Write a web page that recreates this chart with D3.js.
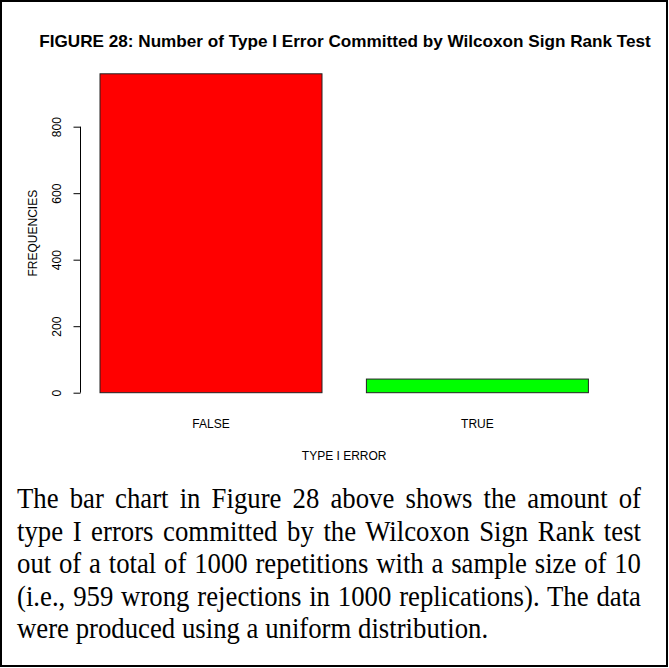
<!DOCTYPE html>
<html>
<head>
<meta charset="utf-8">
<script src="https://cdn.jsdelivr.net/npm/d3@7"></script>
<style>
  html, body { margin: 0; padding: 0; background: #fff; }
  svg { display: block; }
</style>
</head>
<body>
<svg id="chart" width="669" height="668"></svg>
<script>
// ---- data ----
const categories = ["FALSE", "TRUE"];
const frequencies = [959, 41];
const barColors = ["#FF0000", "#00FF00"];
const yTicks = [0, 200, 400, 600, 800];
const titleText = "FIGURE 28: Number of Type I Error Committed by Wilcoxon Sign Rank Test";
const xLabel = "TYPE I ERROR";
const yLabel = "FREQUENCIES";
const captionLines = [
  "The bar chart in Figure 28 above shows the amount of",
  "type I errors committed by the Wilcoxon Sign Rank test",
  "out of a total of 1000 repetitions with a sample size of 10",
  "(i.e., 959 wrong rejections in 1000 replications). The data",
  "were produced using a uniform distribution."
];

// ---- layout ----
const svg = d3.select("#chart");
const W = 669, H = 668;
const sans = "'Liberation Sans', Arial, sans-serif";
const serif = "'Liberation Serif', 'Times New Roman', serif";

svg.append("rect").attr("x", 0).attr("y", 0).attr("width", W).attr("height", H).attr("fill", "#fff");
svg.append("rect").attr("x", 1).attr("y", 1).attr("width", W - 3).attr("height", H - 3)
  .attr("fill", "none").attr("stroke", "#000").attr("stroke-width", 2);

const x = d3.scaleBand().domain(categories).range([100, 588.4]).paddingInner(1 / 6).paddingOuter(0);
const y = d3.scaleLinear().domain([0, 959]).range([392.7, 73.8]);
const axisX = 80.5;

// bars
svg.selectAll("rect.bar").data(categories).enter().append("rect")
  .attr("class", "bar")
  .attr("x", d => x(d))
  .attr("width", x.bandwidth())
  .attr("y", (d, i) => y(frequencies[i]))
  .attr("height", (d, i) => y(0) - y(frequencies[i]))
  .attr("fill", (d, i) => barColors[i])
  .attr("stroke", "#222").attr("stroke-width", 1);

// y axis
const gy = svg.append("g").attr("transform", `translate(${axisX},0)`)
  .call(d3.axisLeft(y).tickValues(yTicks).tickSize(7).tickSizeOuter(0).tickFormat(d3.format("d")));
gy.select(".domain").remove();
gy.append("line").attr("x1", 0).attr("x2", 0).attr("y1", y(yTicks[0])).attr("y2", y(yTicks[yTicks.length - 1]))
  .attr("stroke", "#000");
gy.selectAll(".tick line").attr("stroke", "#000");
gy.selectAll(".tick text")
  .attr("x", 0).attr("dy", "0.35em")
  .attr("transform", "translate(-24,0) rotate(-90)")
  .attr("text-anchor", "middle")
  .attr("font-family", sans).attr("font-size", 12).attr("fill", "#000");

// category labels
svg.selectAll("text.cat").data(categories).enter().append("text")
  .attr("class", "cat")
  .attr("x", d => x(d) + x.bandwidth() / 2)
  .attr("y", 428)
  .attr("text-anchor", "middle")
  .attr("font-family", sans).attr("font-size", 12).attr("fill", "#000")
  .text(d => d);

// axis titles
svg.append("text").attr("x", (80.5 + 607.9) / 2).attr("y", 460)
  .attr("text-anchor", "middle").attr("font-family", sans).attr("font-size", 12).attr("fill", "#000").text(xLabel);
svg.append("text").attr("transform", `translate(37,${(y.range()[0] + 61.1 + 12.6) / 2}) rotate(-90)`)
  .attr("text-anchor", "middle").attr("font-family", sans).attr("font-size", 12).attr("fill", "#000").text(yLabel);

// title
const title = svg.append("text").attr("x", 345).attr("y", 47)
  .attr("text-anchor", "middle").attr("font-family", sans).attr("font-weight", "bold")
  .attr("font-size", 13).attr("fill", "#000").text(titleText);
{
  const target = 612;
  const w = title.node().getComputedTextLength();
  title.attr("font-size", 13 * target / w);
}

// caption (justified paragraph, glyphs slightly tall/narrow as in the reference)
const cap = svg.append("g");
const baselines = [508, 541, 573, 606, 638];
const capLeft = 17, capWidth = 624, stretchY = 1.12;
const lines = cap.selectAll("text").data(captionLines).enter().append("text")
  .attr("x", 0).attr("y", 0)
  .attr("transform", (d, i) => `translate(${capLeft},${baselines[i]}) scale(1,${stretchY})`)
  .attr("font-family", serif).attr("font-size", 22).attr("fill", "#000")
  .text(d => d);
{
  const lastTarget = 471;
  const wLast = lines.nodes()[captionLines.length - 1].getComputedTextLength();
  const fs = 22 * lastTarget / wLast;
  lines.attr("font-size", fs);
  lines.each(function (d, i) {
    if (i === captionLines.length - 1) return;
    const w = this.getComputedTextLength();
    const spaces = (d.match(/ /g) || []).length;
    d3.select(this).attr("word-spacing", Math.max(0, (capWidth - w) / spaces));
  });
}
</script>
</body>
</html>
